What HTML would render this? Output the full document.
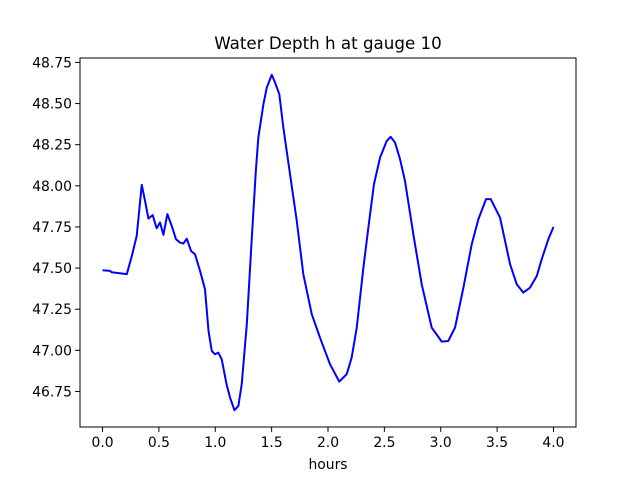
<!DOCTYPE html>
<html><head><meta charset="utf-8"><style>
body{margin:0;background:#fff;}
svg{display:block;font-family:"DejaVu Sans","Liberation Sans",sans-serif;}
</style></head><body>
<svg id="chart" width="640" height="480">
<rect width="640" height="480" fill="#fff"/>
<text x="328" y="49" text-anchor="middle" font-size="16.7">Water Depth h at gauge 10</text>
<g id="axes"></g>
<path id="line" fill="none" stroke="#0000ff" stroke-width="2" stroke-linejoin="round"/>
<rect x="80" y="58" width="496" height="369" fill="none" stroke="#000" stroke-width="1"/>
<text x="328" y="469" text-anchor="middle" font-size="13.9">hours</text>
</svg>
<script>
const hours=[0,0.067,0.08,0.215,0.26,0.303,0.348,0.377,0.407,0.445,0.48,0.51,0.54,0.575,0.614,0.652,0.687,0.717,0.747,0.785,0.82,0.865,0.909,0.94,0.969,0.998,1.027,1.057,1.1,1.131,1.17,1.205,1.235,1.28,1.324,1.36,1.382,1.427,1.457,1.501,1.53,1.568,1.604,1.663,1.723,1.781,1.856,1.929,2.018,2.1,2.166,2.21,2.255,2.314,2.358,2.408,2.462,2.521,2.556,2.595,2.639,2.683,2.757,2.831,2.92,3.009,3.067,3.127,3.201,3.275,3.334,3.402,3.444,3.526,3.615,3.674,3.733,3.792,3.852,3.896,3.955,4.0];
const depth=[47.487,47.483,47.475,47.463,47.574,47.696,48.006,47.908,47.801,47.822,47.742,47.777,47.702,47.828,47.756,47.675,47.655,47.649,47.679,47.604,47.584,47.483,47.371,47.118,46.996,46.976,46.986,46.946,46.794,46.713,46.636,46.662,46.796,47.161,47.685,48.091,48.293,48.496,48.597,48.675,48.628,48.557,48.354,48.071,47.787,47.463,47.22,47.077,46.915,46.81,46.855,46.956,47.138,47.503,47.746,48.01,48.172,48.273,48.298,48.263,48.162,48.03,47.706,47.402,47.138,47.053,47.057,47.138,47.381,47.645,47.797,47.919,47.919,47.807,47.524,47.402,47.351,47.381,47.452,47.554,47.676,47.75];
const xTicks=[0,0.5,1,1.5,2,2.5,3,3.5,4];
const yTicks=[46.75,47,47.25,47.5,47.75,48,48.25,48.5,48.75];
const X0=80,X1=576,Y0=58,Y1=427;
const xmin=-0.2,xmax=4.2;
const dmin=Math.min(...depth),dmax=Math.max(...depth),pad=(dmax-dmin)*0.05;
const ymin=dmin-pad,ymax=dmax+pad;
const sx=v=>X0+(v-xmin)/(xmax-xmin)*(X1-X0);
const sy=v=>Y1-(v-ymin)/(ymax-ymin)*(Y1-Y0);
const NS="http://www.w3.org/2000/svg";
const g=document.getElementById('axes');
function mk(t,a){const e=document.createElementNS(NS,t);for(const k in a)e.setAttribute(k,a[k]);return e;}
xTicks.forEach(t=>{
  const x=sx(t);
  const l=mk('line',{x1:x,x2:x,y1:Y1,y2:Y1+4.9,stroke:'#000'});
  
  
  g.appendChild(l);
  const tx=mk('text',{x:x,y:Y1+20,'text-anchor':'middle','font-size':'13.9'});
  
  
  tx.textContent=t.toFixed(1);g.appendChild(tx);
});
yTicks.forEach(t=>{
  const y=sy(t);
  const l=mk('line',{x1:X0-4.9,x2:X0,y1:y,y2:y,stroke:'#000'});
  
  
  g.appendChild(l);
  const tx=mk('text',{x:X0-8,y:y+5,'text-anchor':'end','font-size':'13.9'});
  
  
  tx.textContent=t.toFixed(2);g.appendChild(tx);
});
document.getElementById('line').setAttribute('d',hours.map((h,i)=>(i?'L':'M')+sx(h).toFixed(2)+','+sy(depth[i]).toFixed(2)).join(''));
</script>
</body></html>
